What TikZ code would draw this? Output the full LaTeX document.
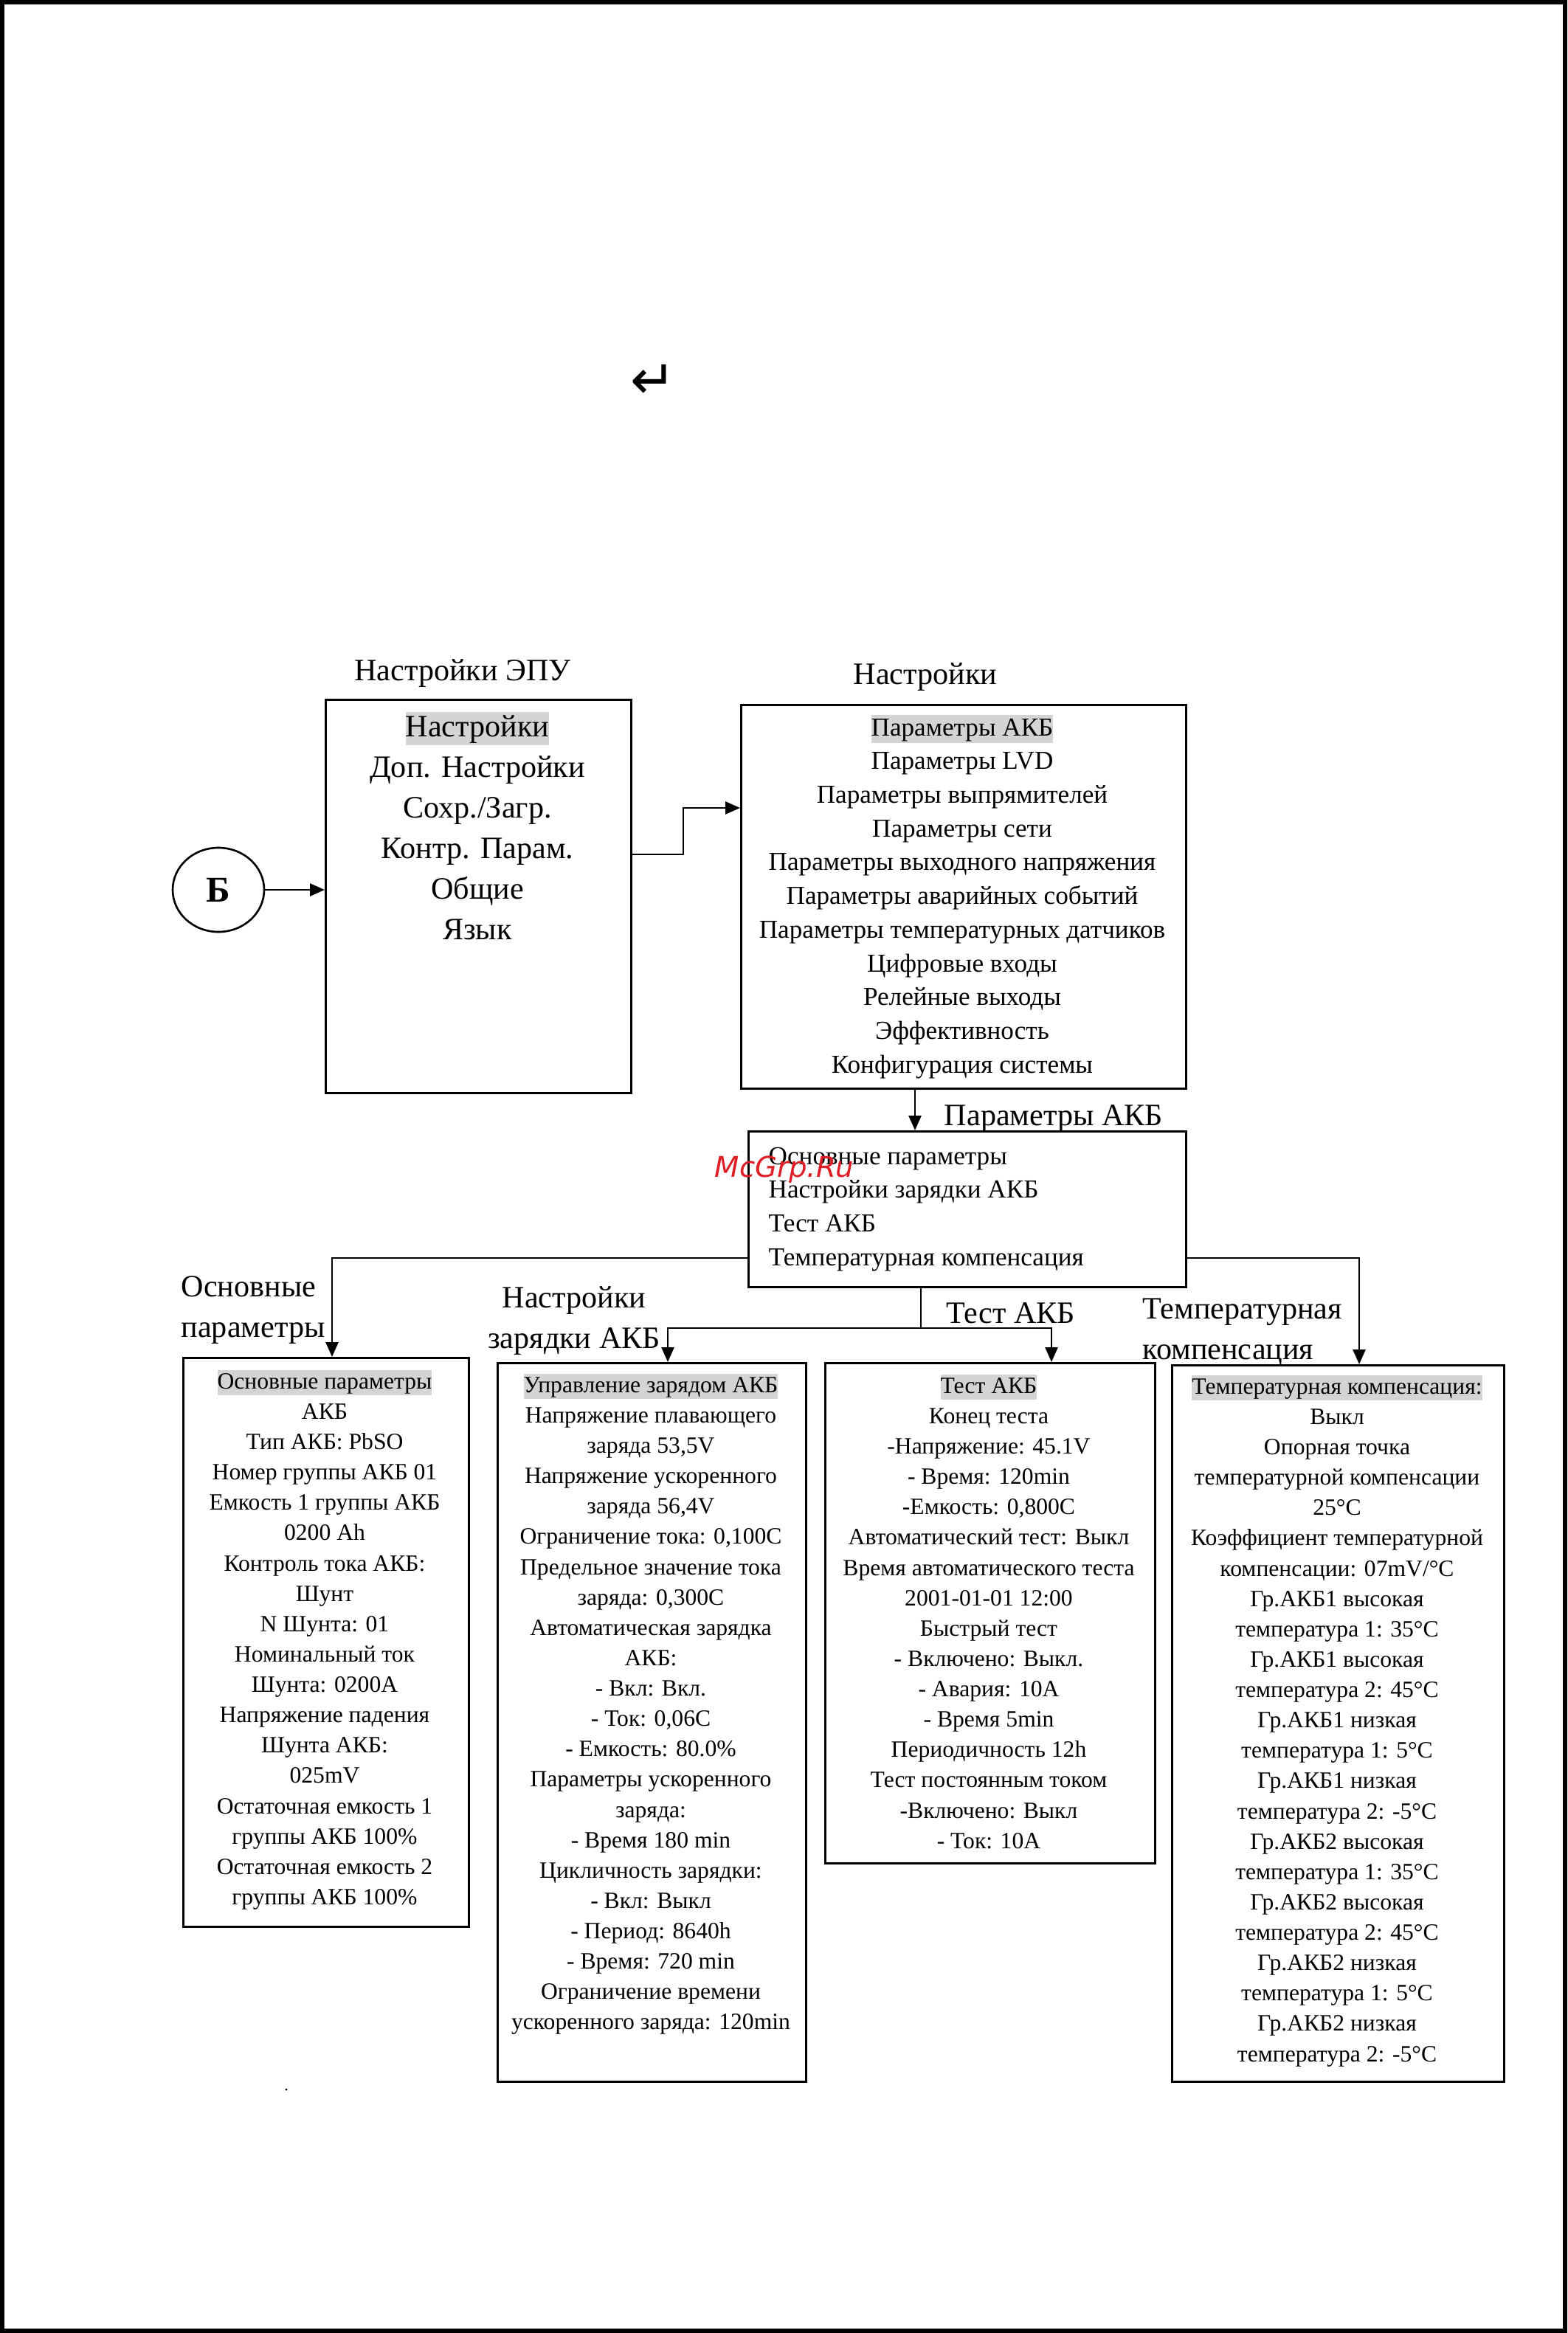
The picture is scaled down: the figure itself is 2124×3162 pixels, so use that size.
\documentclass[tikz,border=0pt]{standalone}
\usepackage{fontspec}
\setmainfont{Liberation Serif}
\newfontfamily\djv{DejaVu Sans}
\usetikzlibrary{arrows.meta,shapes.geometric}
\definecolor{hlgray}{RGB}{212,212,212}
\definecolor{wmred}{RGB}{222,30,36}
\newcommand\hlt[1]{{\setlength{\fboxsep}{0pt}\colorbox{hlgray}{\rule[-0.27em]{0pt}{1.08em}#1}}}
\newcommand\fst{\rule[-0.27em]{0pt}{1.08em}}
\tikzset{
  box/.style={draw, line width=0.75pt, inner sep=0pt, minimum width=#1},
  conn/.style={line width=0.75pt},
  arr/.style={line width=0.75pt, -{Triangle[length=2mm,width=1.7mm]}},
  lbl/.style={inner sep=0pt, font=\fontsize{12}{15.6}\selectfont},
  bigtxt/.style={inner sep=0pt, align=center, font=\fontsize{12}{15.6}\selectfont},
  midtxt/.style={inner sep=0pt, font=\fontsize{10}{13}\selectfont},
  smalltxt/.style={inner sep=0pt, align=center, font=\fontsize{9}{11.7}\selectfont},
}
\begin{document}
\begin{tikzpicture}[x=0.1mm,y=-0.1mm]
\useasboundingbox (0,0) rectangle (2124,3162);
\draw[line width=0.6mm] (3,3) rectangle (2121,3159);

% return symbol
\node[inner sep=0pt, font=\djv\fontsize{21}{23}\selectfont] (ret) at (885,517) {↵};

% circle B
\node[draw, line width=0.75pt, ellipse, minimum width=12.4mm, minimum height=11.4mm, inner sep=0pt,
      font=\bfseries\fontsize{14}{16}\selectfont] (B) at (296,1206) {Б};

% boxes
\node[box=41.4mm, minimum height=53.3mm, anchor=north west] (epu) at (440,947) {};
\node[box=60.3mm, minimum height=52.0mm, anchor=north west] (nast) at (1003,954) {};
\node[box=59.3mm, minimum height=21.1mm, anchor=north west] (akb) at (1013,1532) {};
\node[box=38.7mm, minimum height=77.1mm, anchor=north west] (b1) at (247,1839) {};
\node[box=41.8mm, minimum height=97.4mm, anchor=north west] (b2) at (673,1846) {};
\node[box=44.7mm, minimum height=67.8mm, anchor=north west] (b3) at (1117,1846) {};
\node[box=45.0mm, minimum height=97.1mm, anchor=north west] (b4) at (1587,1849) {};

% labels
\node[lbl, anchor=base] (lepu) at (627,922) {Настройки ЭПУ};
\node[lbl, anchor=base] (lnast) at (1254,928) {Настройки};
\node[lbl, anchor=base] (lakb) at (1428,1525) {Параметры АКБ};
\node[lbl, anchor=base] (ltest) at (1370,1793) {Тест АКБ};
\node[lbl, anchor=north west, align=left] (losn) at (245,1723) {\rule{0pt}{0.8em}Основные\\параметры};
\node[lbl, anchor=north, align=center] (lzar) at (778,1738) {\rule{0pt}{0.8em}Настройки\\зарядки АКБ};
\node[lbl, anchor=north west, align=left] (ltemp) at (1548,1753) {\rule{0pt}{0.8em}Температурная\\компенсация};

% box texts
\node[bigtxt, anchor=north] (epuT) at (647,964) {\hlt{Настройки}\\Доп. Настройки\\Сохр./Загр.\\Контр. Парам.\\Общие\\Язык};
\node[midtxt, align=center, anchor=north] (nastT) at (1304,968) {\hlt{Параметры АКБ}\\Параметры LVD\\Параметры выпрямителей\\Параметры сети\\Параметры выходного напряжения\\Параметры аварийных событий\\Параметры температурных датчиков\\Цифровые входы\\Релейные выходы\\Эффективность\\Конфигурация системы};
\node[midtxt, align=left, anchor=north west] (akbT) at (1041,1549) {\fst Основные параметры\\Настройки зарядки АКБ\\Тест АКБ\\Температурная компенсация};

\node[smalltxt, anchor=north] (b1T) at (440,1856) {\hlt{Основные параметры}\\АКБ\\Тип АКБ: PbSO\\Номер группы АКБ 01\\Емкость 1 группы АКБ\\0200 Ah\\Контроль тока АКБ:\\Шунт\\N Шунта: 01\\Номинальный ток\\Шунта: 0200A\\Напряжение падения\\Шунта АКБ:\\025mV\\Остаточная емкость 1\\группы АКБ 100\%\\Остаточная емкость 2\\группы АКБ 100\%};
\node[smalltxt, anchor=north] (b2T) at (882,1861) {\hlt{Управление зарядом АКБ}\\Напряжение плавающего\\заряда 53,5V\\Напряжение ускоренного\\заряда 56,4V\\Ограничение тока: 0,100C\\Предельное значение тока\\заряда: 0,300C\\Автоматическая зарядка\\АКБ:\\- Вкл: Вкл.\\- Ток: 0,06C\\- Емкость: 80.0\%\\Параметры ускоренного\\заряда:\\- Время 180 min\\Цикличность зарядки:\\- Вкл: Выкл\\- Период: 8640h\\- Время: 720 min\\Ограничение времени\\ускоренного заряда: 120min};
\node[smalltxt, anchor=north] (b3T) at (1340,1862) {\hlt{Тест АКБ}\\Конец теста\\-Напряжение: 45.1V\\- Время: 120min\\-Емкость: 0,800C\\Автоматический тест: Выкл\\Время автоматического теста\\2001-01-01 12:00\\Быстрый тест\\- Включено: Выкл.\\- Авария: 10А\\- Время 5min\\Периодичность 12h\\Тест постоянным током\\-Включено: Выкл\\- Ток: 10А};
\node[smalltxt, anchor=north] (b4T) at (1812,1863) {\hlt{Температурная компенсация:}\\Выкл\\Опорная точка\\температурной компенсации\\25°C\\Коэффициент температурной\\компенсации: 07mV/°C\\Гр.АКБ1 высокая\\температура 1: 35°C\\Гр.АКБ1 высокая\\температура 2: 45°C\\Гр.АКБ1 низкая\\температура 1: 5°C\\Гр.АКБ1 низкая\\температура 2: -5°C\\Гр.АКБ2 высокая\\температура 1: 35°C\\Гр.АКБ2 высокая\\температура 2: 45°C\\Гр.АКБ2 низкая\\температура 1: 5°C\\Гр.АКБ2 низкая\\температура 2: -5°C};

% junction coordinates
\coordinate (j1) at (926,1158);
\coordinate (j2) at (926,1095);
\coordinate (j3) at (1240,1500);
\coordinate (j4) at (450,1705);
\coordinate (j5) at (1842,1705);
\coordinate (j6) at (1248,1800);
\coordinate (j7) at (905,1800);
\coordinate (j8) at (1425,1800);

% connectors
\draw[arr] (B.east) -- (B.east -| epu.west);
\draw[arr] (j1 -| epu.east) -- (j1) -- (j2) -- (j2 -| nast.west);
\draw[arr] (j3 |- nast.south) -- (j3 |- akb.north);
\draw[arr] (j4 -| akb.west) -- (j4) -- (j4 |- b1.north);
\draw[arr] (j5 -| akb.east) -- (j5) -- (j5 |- b4.north);
\draw[arr] (j6 |- akb.south) -- (j6) -- (j7) -- (j7 |- b2.north);
\draw[arr] (j6) -- (j8) -- (j8 |- b3.north);

% stray dot
\fill (388,2832) circle (1.6);

% watermark
\node[inner sep=0pt, anchor=base west, text=wmred, font=\djv\itshape\fontsize{11}{13}\selectfont] (wm) at (968,1595) {McGrp.Ru};
\end{tikzpicture}
\end{document}
